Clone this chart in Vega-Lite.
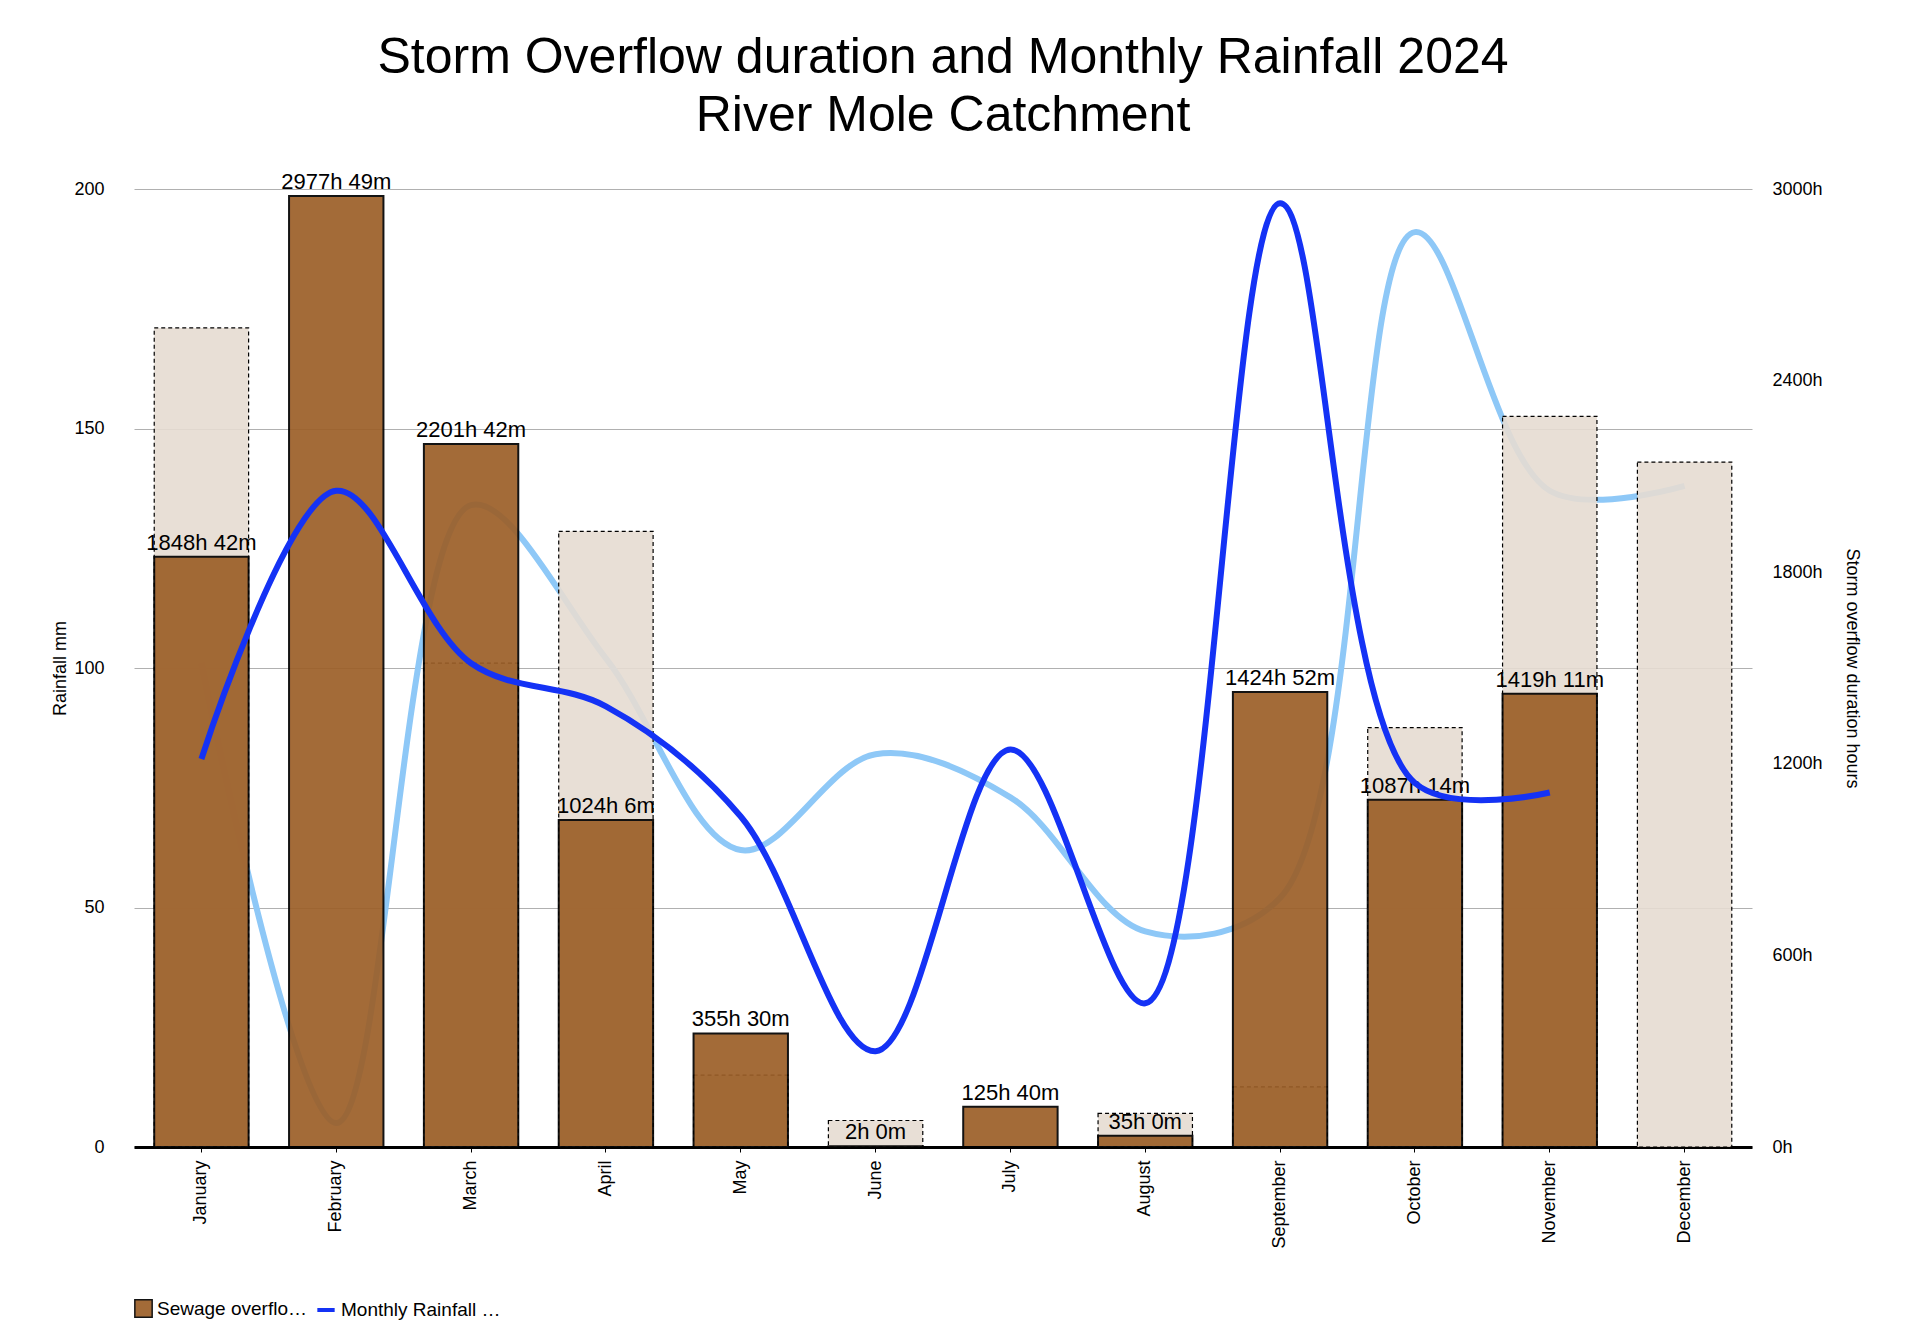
{
"$schema":"https://vega.github.io/schema/vega-lite/v6.json",
"width":1618,"height":958,
"autosize":{"type":"none"},
"padding":{"left":134,"top":189,"right":168,"bottom":184},
"background":"white",
"config":{"font":"Liberation Sans","view":{"stroke":null}},
"title":{"text":["Storm Overflow duration and Monthly Rainfall 2024","River Mole Catchment"],"fontSize":50,"fontWeight":"normal","color":"black","offset":30,"lineHeight":58},
"datasets":{"d":[
{"month":"January","rain":81,"rain_prev":101,"hours":1848.7,"hours_prev":2565,"label":"1848h 42m"},
{"month":"February","rain":137,"rain_prev":5,"hours":2977.8,"hours_prev":null,"label":"2977h 49m"},
{"month":"March","rain":101,"rain_prev":134,"hours":2201.7,"hours_prev":1515,"label":"2201h 42m"},
{"month":"April","rain":92,"rain_prev":102,"hours":1024.1,"hours_prev":1928,"label":"1024h 6m"},
{"month":"May","rain":69,"rain_prev":62,"hours":355.5,"hours_prev":225,"label":"355h 30m"},
{"month":"June","rain":20,"rain_prev":82,"hours":2,"hours_prev":83,"label":"2h 0m"},
{"month":"July","rain":83,"rain_prev":73,"hours":125.7,"hours_prev":null,"label":"125h 40m"},
{"month":"August","rain":30,"rain_prev":45,"hours":35,"hours_prev":105,"label":"35h 0m"},
{"month":"September","rain":197,"rain_prev":52,"hours":1424.9,"hours_prev":188,"label":"1424h 52m"},
{"month":"October","rain":76,"rain_prev":191,"hours":1087.2,"hours_prev":1313,"label":"1087h 14m"},
{"month":"November","rain":74,"rain_prev":137,"hours":1419.2,"hours_prev":2288,"label":"1419h 11m"},
{"month":"December","rain":null,"rain_prev":138,"hours":null,"hours_prev":2145,"label":""}
]},
"data":{"name":"d"},
"encoding":{"x":{"field":"month","type":"nominal","sort":null,"scale":{"paddingInner":0.3,"paddingOuter":0.15},
 "axis":{"title":null,"labelAngle":-90,"labelFontSize":18,"labelColor":"black","domainColor":"black","domainWidth":3,"ticks":true,"tickColor":"black","labelPadding":8}}},
"layer":[
 {"mark":{"type":"line","interpolate":"catmull-rom","strokeWidth":6,"color":"#8ec8f7"},
  "encoding":{"y":{"field":"rain_prev","type":"quantitative","scale":{"domain":[0,200]},
   "axis":{"title":"Rainfall mm","titleFontSize":18,"titleFontWeight":"normal","titleColor":"black","values":[0,50,100,150,200],"labelFontSize":18,"labelColor":"black","domain":false,"ticks":false,"labelPadding":30,"gridColor":"#b0b0b0","grid":true}}}},
 {"layer":[
  {"mark":{"type":"bar","fill":"#e6dcd2","fillOpacity":0.9,"stroke":"black","strokeWidth":1.2,"strokeDash":[4,3]},
   "encoding":{"y":{"field":"hours_prev","type":"quantitative","scale":{"domain":[0,3000]},
    "axis":{"orient":"right","title":"Storm overflow duration hours","titleFontSize":18,"titleFontWeight":"normal","titleColor":"black","values":[0,600,1200,1800,2400,3000],"labelExpr":"datum.value + 'h'","labelFontSize":18,"labelColor":"black","domain":false,"ticks":false,"labelPadding":20,"gridColor":"#b0b0b0","titlePadding":20}}}},
  {"mark":{"type":"bar","opacity":0.92,"stroke":"black","strokeWidth":2},
   "encoding":{"y":{"field":"hours","type":"quantitative"},
    "fill":{"datum":"Sewage overflow hours","scale":{"range":["#9c5f28"]},"legend":{"orient":"bottom","title":null,"labelFontSize":19,"labelColor":"black","symbolType":"square","symbolSize":300,"symbolStrokeColor":"black","symbolStrokeWidth":1.5,"offset":50}}}},
  {"mark":{"type":"text","dy":-14,"fontSize":22,"color":"black"},
   "encoding":{"y":{"field":"hours","type":"quantitative"},"text":{"field":"label"}}}
 ]},
 {"mark":{"type":"line","interpolate":"catmull-rom","strokeWidth":6},
  "transform":[{"filter":"isValid(datum.rain)"}],
  "encoding":{"y":{"field":"rain","type":"quantitative","scale":{"domain":[0,200]},"axis":null},
   "stroke":{"datum":"Monthly Rainfall mm Charlwood official","scale":{"range":["#1432f5"]},"legend":{"orient":"bottom","title":null,"labelFontSize":19,"labelColor":"black","symbolType":"stroke","symbolStrokeWidth":4,"symbolSize":300,"offset":50}}}}
],
"resolve":{"scale":{"y":"independent","fill":"independent","stroke":"independent"}}
}
